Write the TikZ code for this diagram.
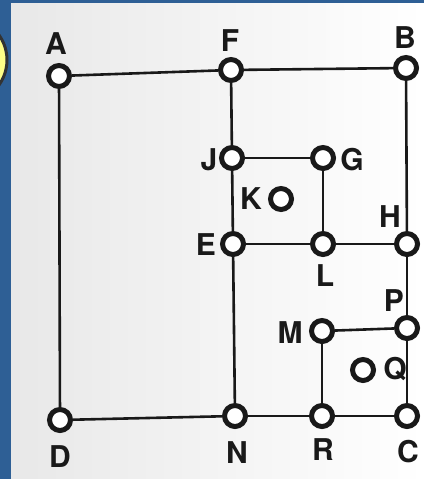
\documentclass[tikz,border=0pt]{standalone}
\usepackage{fontspec}
\setmainfont{TeX Gyre Heros}
\begin{document}
\begin{tikzpicture}[x=1pt,y=-1pt,
  vtx/.style={circle,draw=black!90,fill=white,line width=5pt,minimum size=21pt,inner sep=0pt},
  lbl/.style={font=\fontsize{30}{30}\selectfont\bfseries,text=black!90,inner sep=0pt},
  edge/.style={line width=2.6pt,draw=black!90}]
\definecolor{bandblue}{HTML}{2E5F95}
\definecolor{yel}{HTML}{FFFF88}
\useasboundingbox (0,0) rectangle (424,479);
\fill[bandblue] (0,0) rectangle (424,479);
\shade[left color=black!9,right color=white] (11,3) rectangle (424,479);
\begin{scope}
\clip (0,0) rectangle (11,479);
\draw[fill=yel,draw=black!80,line width=3pt] (-36,60) circle (43);
\end{scope}
% vertices
\node[vtx] (A) at (59,76) {};
\node[vtx] (F) at (231,70) {};
\node[vtx] (B) at (406,68) {};
\node[vtx] (J) at (232,158) {};
\node[vtx] (G) at (323,158) {};
\node[vtx] (K) at (281,199) {};
\node[vtx] (E) at (233,244) {};
\node[vtx] (L) at (323,244) {};
\node[vtx] (H) at (407,244) {};
\node[vtx] (M) at (322,331) {};
\node[vtx] (P) at (407,328) {};
\node[vtx] (Q) at (363,370) {};
\node[vtx] (D) at (60,420) {};
\node[vtx] (N) at (235,416) {};
\node[vtx] (R) at (322,416) {};
\node[vtx] (C) at (407,416) {};
% edges
\draw[edge] (A) -- (F);
\draw[edge] (F) -- (B);
\draw[edge] (A) -- (D);
\draw[edge] (B) -- (H);
\draw[edge] (H) -- (P);
\draw[edge] (P) -- (C);
\draw[edge] (F) -- (J);
\draw[edge] (J) -- (E);
\draw[edge] (E) -- (N);
\draw[edge] (J) -- (G);
\draw[edge] (G) -- (L);
\draw[edge] (E) -- (L);
\draw[edge] (L) -- (H);
\draw[edge] (M) -- (P);
\draw[edge] (M) -- (R);
\draw[edge] (D) -- (N);
\draw[edge] (N) -- (R);
\draw[edge] (R) -- (C);
% labels
\node[lbl] (tA) at (56,44) {A};
\node[lbl] (tF) at (230,41) {F};
\node[lbl] (tB) at (405,38) {B};
\node[lbl] (tJ) at (209,160) {J};
\node[lbl] (tG) at (352,160) {G};
\node[lbl] (tK) at (251,199) {K};
\node[lbl] (tE) at (206,245) {E};
\node[lbl] (tL) at (325,276) {L};
\node[lbl] (tH) at (390,217) {H};
\node[lbl] (tP) at (394,301) {P};
\node[lbl] (tM) at (290,333) {M};
\node[lbl] (tQ) at (395,369) {Q};
\node[lbl] (tD) at (60,457) {D};
\node[lbl] (tN) at (237,453) {N};
\node[lbl] (tR) at (323,450) {R};
\node[lbl] (tC) at (408,452) {C};
\end{tikzpicture}
\end{document}
